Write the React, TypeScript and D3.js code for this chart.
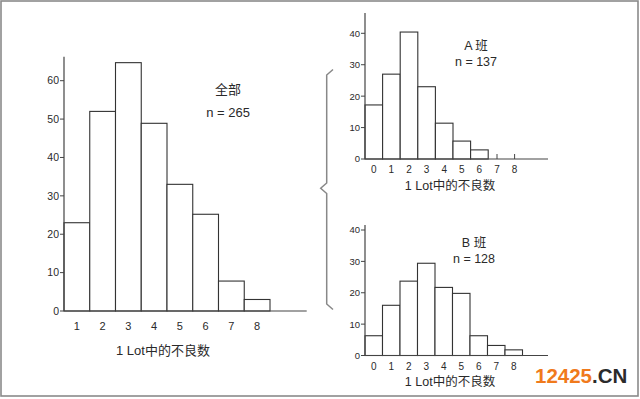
import React, { useEffect, useRef } from "react";
import * as d3 from "d3";

// all defects
const allCats = [1, 2, 3, 4, 5, 6, 7, 8];
const allCounts = [23, 52, 64.7, 48.9, 33, 25.2, 7.8, 3];
const allTicks = [0, 10, 20, 30, 40, 50, 60];

// shift A / shift B
const shiftCats = [0, 1, 2, 3, 4, 5, 6, 7, 8];
const aCounts = [17.2, 27, 40.4, 23, 11.4, 5.7, 2.9, 0, 0];
const bCounts = [6.3, 16, 23.7, 29.4, 21.7, 19.8, 6.3, 3.2, 1.8];
const shiftTicks = [0, 10, 20, 30, 40];

const xTitle = "1 Lot中的不良数";
const FONT = "'Liberation Sans', Arial, 'Noto Sans CJK SC', sans-serif";
const INK = "#2a2a2a";

type HistOpts = {
  cats: number[];
  counts: number[];
  ticks: number[];
  xRange: [number, number];
  yDomainMax: number;
  yRange: [number, number];
  axisTop: number;
  axisRight: number;
  tickSize: number;
  xLabelY: number;
  title: string[];
  titleX: number;
  titleY: number[];
  xTitlePos: [number, number];
  fontSmall: number;
  fontTitle: number;
};

function drawHist(svg: any, o: HistOpts) {
  const g = svg.append("g");
  const x = d3
    .scaleBand<number>()
    .domain(o.cats)
    .range(o.xRange)
    .padding(0);
  const y = d3.scaleLinear().domain([0, o.yDomainMax]).range(o.yRange);
  const x0 = o.xRange[0];
  const base = y(0);

  // bars
  g.selectAll("rect.bar")
    .data(o.cats.map((c, i) => ({ c, v: o.counts[i] })).filter((d) => d.v > 0))
    .enter()
    .append("rect")
    .attr("class", "bar")
    .attr("x", (d: any) => x(d.c))
    .attr("y", (d: any) => y(d.v))
    .attr("width", x.bandwidth())
    .attr("height", (d: any) => base - y(d.v))
    .attr("fill", "#fff")
    .attr("stroke", "#333")
    .attr("stroke-width", 1.1);

  // axes
  g.append("line")
    .attr("x1", x0)
    .attr("x2", x0)
    .attr("y1", o.axisTop)
    .attr("y2", base)
    .attr("stroke", "#444")
    .attr("stroke-width", 1.2);
  g.append("line")
    .attr("x1", x0)
    .attr("x2", o.axisRight)
    .attr("y1", base)
    .attr("y2", base)
    .attr("stroke", "#444")
    .attr("stroke-width", 1.2);

  // y ticks
  const yt = g.selectAll("g.yt").data(o.ticks).enter().append("g");
  yt.append("line")
    .attr("x1", x0 - 4)
    .attr("x2", x0)
    .attr("y1", (d: number) => y(d))
    .attr("y2", (d: number) => y(d))
    .attr("stroke", "#444");
  yt.append("text")
    .attr("x", x0 - 5)
    .attr("y", (d: number) => y(d))
    .attr("dy", "0.36em")
    .attr("text-anchor", "end")
    .attr("font-size", o.fontSmall)
    .attr("fill", INK)
    .text((d: number) => d);

  // small up-ticks where there is no bar
  g.selectAll("line.empty")
    .data(o.cats.filter((c, i) => o.counts[i] === 0))
    .enter()
    .append("line")
    .attr("x1", (d: number) => (x(d) as number) + x.bandwidth() / 2)
    .attr("x2", (d: number) => (x(d) as number) + x.bandwidth() / 2)
    .attr("y1", base - 5)
    .attr("y2", base)
    .attr("stroke", "#444");

  // x tick labels
  g.selectAll("text.xl")
    .data(o.cats)
    .enter()
    .append("text")
    .attr("x", (d: number) => (x(d) as number) + x.bandwidth() / 2)
    .attr("y", o.xLabelY)
    .attr("dy", "0.36em")
    .attr("text-anchor", "middle")
    .attr("font-size", o.fontSmall + 0.5)
    .attr("fill", INK)
    .text((d: number) => d);

  g.append("text")
    .attr("x", o.xTitlePos[0])
    .attr("y", o.xTitlePos[1])
    .attr("dy", "0.36em")
    .attr("text-anchor", "middle")
    .attr("font-size", o.fontTitle)
    .attr("fill", INK)
    .text(xTitle);

  o.title.forEach((t, i) => {
    g.append("text")
      .attr("x", o.titleX)
      .attr("y", o.titleY[i])
      .attr("dy", "0.36em")
      .attr("text-anchor", "middle")
      .attr("font-size", o.fontTitle)
      .attr("fill", INK)
      .text(t);
  });
}

export default function App() {
  const ref = useRef<SVGSVGElement | null>(null);

  useEffect(() => {
    if (!ref.current) return;
    const svg = d3.select(ref.current);
    svg.selectAll("*").remove();

    // frame
    svg
      .append("rect")
      .attr("x", 1)
      .attr("y", 1)
      .attr("width", 637)
      .attr("height", 395)
      .attr("fill", "#fff")
      .attr("stroke", "#8a8a8a")
      .attr("stroke-width", 1.6);

    drawHist(svg, {
      cats: allCats,
      counts: allCounts,
      ticks: allTicks,
      xRange: [64, 270],
      yDomainMax: 60,
      yRange: [311, 80.7],
      axisTop: 56.7,
      axisRight: 306.7,
      tickSize: 4,
      xLabelY: 326,
      title: ["全部", "n = 265"],
      titleX: 228,
      titleY: [89.5, 112],
      xTitlePos: [163, 350],
      fontSmall: 10.5,
      fontTitle: 13,
    });

    drawHist(svg, {
      cats: shiftCats,
      counts: aCounts,
      ticks: shiftTicks,
      xRange: [365, 523.4],
      yDomainMax: 40,
      yRange: [159, 33.3],
      axisTop: 13,
      axisRight: 548,
      tickSize: 4,
      xLabelY: 169,
      title: ["A  班", "n = 137"],
      titleX: 476,
      titleY: [45, 61],
      xTitlePos: [450, 185],
      fontSmall: 9.5,
      fontTitle: 12.5,
    });

    drawHist(svg, {
      cats: shiftCats,
      counts: bCounts,
      ticks: shiftTicks,
      xRange: [365, 522.5],
      yDomainMax: 40,
      yRange: [355.5, 230],
      axisTop: 225,
      axisRight: 548,
      tickSize: 4,
      xLabelY: 366,
      title: ["B  班", "n = 128"],
      titleX: 474,
      titleY: [242.5, 258],
      xTitlePos: [450, 381],
      fontSmall: 9.5,
      fontTitle: 12.5,
    });

    // brace joining the two shift charts
    svg
      .append("path")
      .attr(
        "d",
        "M333,69.5 L326.7,75 L326.7,183 L320.7,188.3 L326.7,193.5 L326.7,304 L333,309.5"
      )
      .attr("fill", "none")
      .attr("stroke", "#888")
      .attr("stroke-width", 1.5);

    // watermark
    const wm = svg
      .append("text")
      .attr("x", 535)
      .attr("y", 383)
      .attr("font-size", 20.5)
      .attr("font-weight", "bold");
    wm.append("tspan").attr("fill", "#f07a1c").text("12425");
    wm.append("tspan").attr("fill", "#2b2b2b").text(".CN");
  }, []);

  return (
    <svg
      ref={ref}
      width={640}
      height={399}
      style={{ position: "absolute", left: 0, top: 0, fontFamily: FONT, background: "#fff" }}
    />
  );
}
